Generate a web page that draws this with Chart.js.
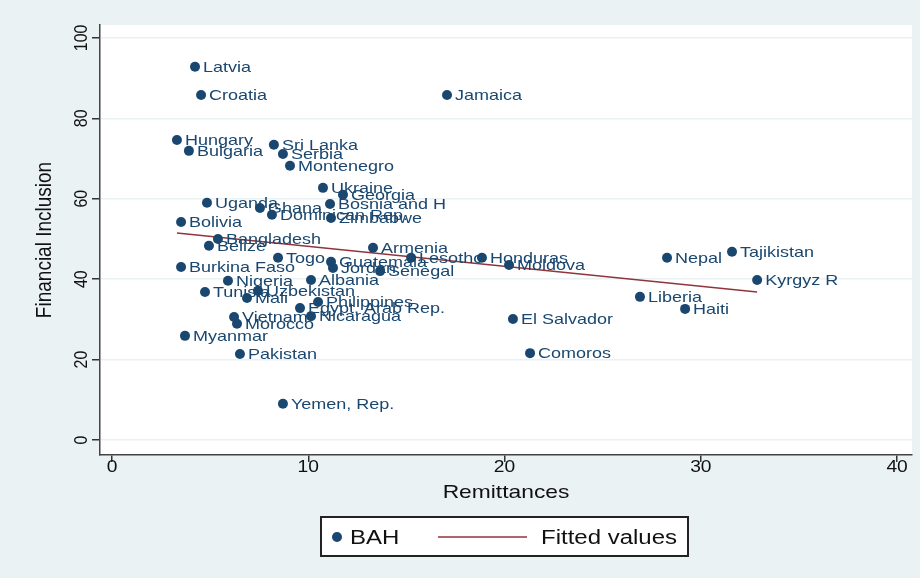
<!DOCTYPE html>
<html lang="en">
<head>
<meta charset="UTF-8">
<title>Financial Inclusion vs Remittances</title>
<script src="https://cdn.jsdelivr.net/npm/chart.js"></script>
<style>
    body { margin: 0; background: #eaf2f3; }
    #wrap { width: 920px; height: 578px; }
</style>
</head>
<body>
<div id="wrap"><canvas id="grafico" width="920" height="578"></canvas></div>

<script>
    // data
    const paises = ['Latvia', 'Croatia', 'Jamaica', 'Hungary', 'Bulgaria', 'Sri Lanka', 'Serbia', 'Montenegro',
        'Ukraine', 'Georgia', 'Bosnia and H', 'Zimbabwe', 'Uganda', 'Ghana', 'Dominican Rep.', 'Bolivia',
        'Bangladesh', 'Belize', 'Togo', 'Guatemala', 'Jordan', 'Senegal', 'Armenia', 'Lesotho', 'Honduras',
        'Moldova', 'Nepal', 'Tajikistan', 'Kyrgyz R', 'Liberia', 'Haiti', 'El Salvador', 'Comoros',
        'Burkina Faso', 'Nigeria', 'Albania', 'Tunisia', 'Uzbekistan', 'Mali', 'Philippines',
        'Egypt, Arab Rep.', 'Nicaragua', 'Vietnam', 'Morocco', 'Myanmar', 'Pakistan', 'Yemen, Rep.'];
    const remessas = [4.23, 4.54, 17.07, 3.31, 3.92, 8.25, 8.71, 9.07,
        10.75, 11.77, 11.11, 11.16, 4.84, 7.54, 8.15, 3.52,
        5.40, 4.94, 8.46, 11.16, 11.26, 13.66, 13.30, 15.24, 18.85,
        20.23, 28.28, 31.59, 32.87, 26.90, 29.20, 20.43, 21.30,
        3.52, 5.91, 10.14, 4.74, 7.44, 6.88, 10.50,
        9.58, 10.14, 6.22, 6.37, 3.72, 6.52, 8.71];
    const inclusao = [92.8, 85.8, 85.8, 74.6, 71.9, 73.4, 71.1, 68.2,
        62.7, 61.0, 58.7, 55.2, 59.0, 57.7, 56.0, 54.2,
        50.0, 48.3, 45.3, 44.3, 42.8, 42.0, 47.8, 45.3, 45.3,
        43.5, 45.3, 46.8, 39.8, 35.6, 32.6, 30.1, 21.6,
        43.0, 39.6, 39.8, 36.8, 37.1, 35.3, 34.3,
        32.8, 30.8, 30.6, 28.9, 25.9, 21.4, 9.0];
    const ajusteX = [3.31, 32.87];
    const ajusteY = [51.5, 36.8];
    const ticksX = [0, 10, 20, 30, 40];
    const ticksY = [0, 20, 40, 60, 80, 100];

    const azul = '#1a476f';
    const vinho = '#90353b';
    const fonte = '"Liberation Sans", Arial, sans-serif';

    // texto esticado na horizontal (o original foi alargado)
    function texto(ctx, s, x, y, size, align, rot, cor) {
        ctx.save();
        ctx.translate(x, y);
        if (rot) {
            ctx.rotate(-Math.PI / 2);
            ctx.scale(1, 1.2);
        } else {
            ctx.scale(1.2, 1);
        }
        ctx.font = size + 'px ' + fonte;
        ctx.fillStyle = cor || '#111';
        ctx.textAlign = align;
        ctx.textBaseline = 'middle';
        ctx.fillText(s, 0, 0);
        ctx.restore();
    }

    const fundo = {
        id: 'fundo',
        beforeDraw(chart) {
            const { ctx, chartArea: a } = chart;
            ctx.save();
            ctx.fillStyle = '#eaf2f3';
            ctx.fillRect(0, 0, chart.width, chart.height);
            ctx.fillStyle = '#ffffff';
            ctx.fillRect(a.left, a.top, a.right - a.left, a.bottom - a.top);
            ctx.restore();
        }
    };

    const textos = {
        id: 'textos',
        afterDraw(chart) {
            const { ctx, chartArea: a } = chart;
            const sx = chart.scales.x, sy = chart.scales.y;

            // rotulos dos pontos
            const meta = chart.getDatasetMeta(0);
            meta.data.forEach((p, i) => {
                texto(ctx, paises[i], p.x + 8, p.y + 1, 15, 'left', false, azul);
            });

            ticksX.forEach(v => texto(ctx, String(v), sx.getPixelForValue(v), 468, 16, 'center'));
            ticksY.forEach(v => texto(ctx, String(v), 82, sy.getPixelForValue(v), 16, 'center', true));

            texto(ctx, 'Remittances', (a.left + a.right) / 2, 493, 19, 'center');
            texto(ctx, 'Financial Inclusion', 45, (a.top + a.bottom) / 2, 19, 'center', true);

            // legenda
            ctx.save();
            ctx.fillStyle = '#ffffff';
            ctx.fillRect(321, 517, 367, 39);
            ctx.strokeStyle = '#222';
            ctx.lineWidth = 2;
            ctx.strokeRect(321, 517, 367, 39);
            ctx.fillStyle = azul;
            ctx.beginPath();
            ctx.arc(337, 537, 5, 0, Math.PI * 2);
            ctx.fill();
            ctx.strokeStyle = vinho;
            ctx.lineWidth = 1.5;
            ctx.beginPath();
            ctx.moveTo(438, 537);
            ctx.lineTo(527, 537);
            ctx.stroke();
            ctx.restore();
            texto(ctx, 'BAH', 350, 538, 20, 'left');
            texto(ctx, 'Fitted values', 541, 538, 20, 'left');
        }
    };

    const pontos = remessas.map((x, i) => ({ x: x, y: inclusao[i] }));
    const linha = ajusteX.map((x, i) => ({ x: x, y: ajusteY[i] }));

    const config = {
        type: 'scatter',
        data: {
            datasets: [{
                label: 'BAH',
                data: pontos,
                backgroundColor: azul,
                borderColor: azul,
                pointRadius: 5,
                pointBorderWidth: 0
            }, {
                label: 'Fitted values',
                data: linha,
                showLine: true,
                borderColor: vinho,
                borderWidth: 1.5,
                pointRadius: 0,
                fill: false
            }]
        },
        options: {
            responsive: false,
            animation: false,
            events: [],
            layout: { padding: { top: 25, right: 8, left: 0, bottom: 0 } },
            plugins: {
                legend: { display: false },
                tooltip: { enabled: false }
            },
            scales: {
                x: {
                    type: 'linear',
                    min: -0.61,
                    max: 40.76,
                    afterBuildTicks(s) { s.ticks = ticksX.map(v => ({ value: v })); },
                    afterFit(s) { s.height = 123; },
                    ticks: { display: false },
                    grid: { drawOnChartArea: false, drawTicks: true, tickLength: 7, tickColor: '#333', lineWidth: 1.5 },
                    border: { color: '#444', width: 1.5 }
                },
                y: {
                    type: 'linear',
                    min: -3.73,
                    max: 103.2,
                    afterBuildTicks(s) { s.ticks = ticksY.map(v => ({ value: v })); },
                    afterFit(s) { s.width = 100; },
                    ticks: { display: false },
                    grid: { color: '#eaf1f3', lineWidth: 1.5, drawTicks: true, tickLength: 8, tickColor: '#333' },
                    border: { color: '#444', width: 1.5 }
                }
            }
        },
        plugins: [fundo, textos]
    };

    new Chart(document.getElementById('grafico'), config);
</script>
</body>
</html>
